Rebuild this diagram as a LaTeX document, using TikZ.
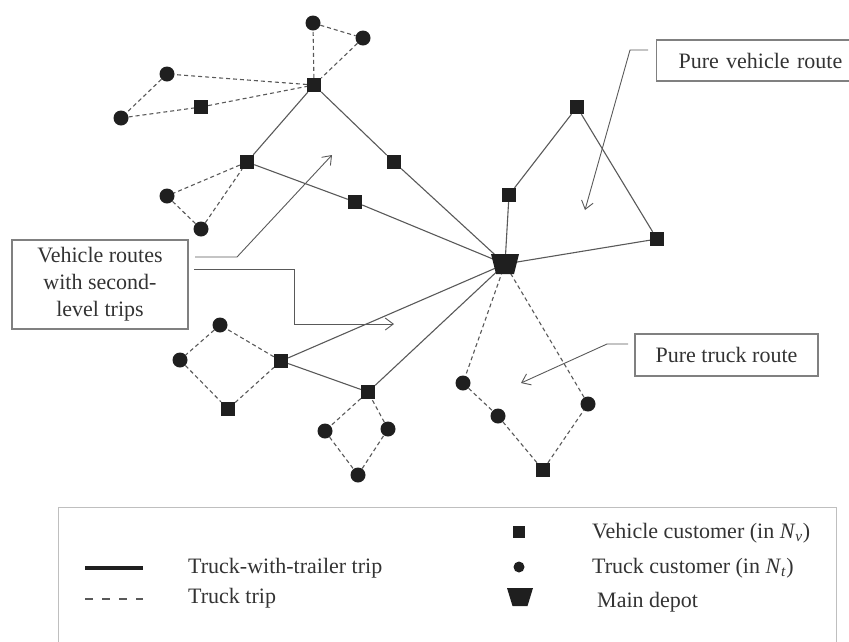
\documentclass[tikz,border=0pt]{standalone}
\usepackage{fontspec}
\setmainfont{Liberation Serif}
\usetikzlibrary{arrows.meta,calc}
\definecolor{linegray}{gray}{0.35}
\definecolor{textgray}{gray}{0.2}
\definecolor{markfill}{gray}{0.12}
\definecolor{boxgray}{gray}{0.5}
\tikzset{
  vcust/.style={rectangle, fill=markfill, minimum size=14pt, inner sep=0pt},
  tcust/.style={circle, fill=markfill, minimum size=15pt, inner sep=0pt},
  solidtrip/.style={draw=linegray, line width=1.1pt},
  trucktrip/.style={draw=linegray, line width=1.1pt, dash pattern=on 4pt off 3pt},
  callout/.style={draw=boxgray, line width=1.1pt, text=textgray, inner sep=0pt, align=center},
  calloutarrow/.style={draw=linegray, line width=0.9pt, -{Straight Barb[length=8pt,width=12pt]}},
  lbl/.style={text=textgray, inner sep=0pt, anchor=west},
  every node/.append style={font=\fontsize{22}{27}\selectfont}
}
\begin{document}
\begin{tikzpicture}[x=1pt,y=-1pt]
\useasboundingbox (0,0) rectangle (849,641);
% depot position
\coordinate (dep) at (505,264);
% vehicle customers
\node[vcust] (s1) at (314,85) {};
\node[vcust] (s2) at (201,107) {};
\node[vcust] (s3) at (247,162) {};
\node[vcust] (s4) at (394,162) {};
\node[vcust] (s5) at (355,202) {};
\node[vcust] (s6) at (577,107) {};
\node[vcust] (s7) at (509,195) {};
\node[vcust] (s8) at (657,239) {};
\node[vcust] (s9) at (281,361) {};
\node[vcust] (s10) at (228,409) {};
\node[vcust] (s11) at (368,392) {};
\node[vcust] (s12) at (543,470) {};
% truck customers
\node[tcust] (c1) at (313,23) {};
\node[tcust] (c2) at (363,38) {};
\node[tcust] (c3) at (167,74) {};
\node[tcust] (c4) at (121,118) {};
\node[tcust] (c5) at (167,196) {};
\node[tcust] (c6) at (201,229) {};
\node[tcust] (c7) at (220,325) {};
\node[tcust] (c8) at (180,360) {};
\node[tcust] (c9) at (325,431) {};
\node[tcust] (c10) at (388,429) {};
\node[tcust] (c11) at (358,475) {};
\node[tcust] (c12) at (463,383) {};
\node[tcust] (c13) at (498,416) {};
\node[tcust] (c14) at (588,404) {};
% truck-with-trailer trips
\draw[solidtrip] (s1) -- (s3) -- (s5) -- (dep);
\draw[solidtrip] (s1) -- (s4) -- (dep);
\draw[solidtrip] (dep) -- (s7) -- (s6) -- (s8) -- (dep);
\draw[solidtrip] (dep) -- (s9) -- (s11) -- (dep);
% truck trips
\draw[trucktrip] (s1) -- (c1) -- (c2) -- (s1);
\draw[trucktrip] (s1) -- (c3) -- (c4) -- (s2) -- (s1);
\draw[trucktrip] (s3) -- (c5) -- (c6) -- (s3);
\draw[trucktrip] (s9) -- (c7) -- (c8) -- (s10) -- (s9);
\draw[trucktrip] (s11) -- (c9) -- (c11) -- (c10) -- (s11);
\draw[trucktrip] (dep) -- (c12) -- (c13) -- (s12) -- (c14) -- (dep);
% depot shape
\fill[markfill] ($(dep)+(-14,-10)$) -- ($(dep)+(14,-10)$) -- ($(dep)+(9,10)$) -- ($(dep)+(-9,10)$) -- cycle;
% callout boxes
\node[callout, anchor=west, minimum height=41pt, inner xsep=22pt, text width=190pt, align=left] (pvr) at (656,60.5) {Pure vehicle route};
\node[callout, minimum width=183pt, minimum height=42pt] (ptr) at (726.5,355) {Pure truck route};
\node[callout, minimum width=176pt, minimum height=89pt] (vrs) at (100,284.5) {Vehicle routes\\with second-\\level trips};
% callout arrows
\coordinate (pvrA) at (648,50);
\coordinate (pvrB) at (630,50);
\coordinate (pvrT) at (585,210);
\draw[calloutarrow] (pvrA) -- (pvrB) -- (pvrT);
\coordinate (ptrA) at (628,344);
\coordinate (ptrB) at (607,344);
\coordinate (ptrT) at (521,383);
\draw[calloutarrow] (ptrA) -- (ptrB) -- (ptrT);
\coordinate (vrsA) at (195,257);
\coordinate (vrsB) at (237,257);
\coordinate (vrsT) at (332,155);
\draw[calloutarrow] (vrsA) -- (vrsB) -- (vrsT);
\coordinate (vrsC) at (194,269);
\coordinate (vrsD) at (294,269);
\coordinate (vrsE) at (294,324);
\coordinate (vrsU) at (394,324);
\draw[calloutarrow] (vrsC) -- (vrsD) -- (vrsE) -- (vrsU);
% legend
\draw[draw=black!25, line width=0.8pt] (58,660) -- (58,507) -- (836,507) -- (836,660);
\coordinate (lsA) at (85,568);
\coordinate (lsB) at (143,568);
\draw[draw=markfill, line width=3.2pt] (lsA) -- (lsB);
\coordinate (ldA) at (85,599);
\coordinate (ldB) at (143,599);
\draw[draw=linegray, line width=2pt, dash pattern=on 8pt off 9pt] (ldA) -- (ldB);
\node[lbl] (lt1) at (188,568) {Truck-with-trailer trip};
\node[lbl] (lt2) at (188,598) {Truck trip};
\node[rectangle, fill=markfill, minimum width=12pt, minimum height=12pt, inner sep=0pt] (lsq) at (519,532) {};
\node[circle, fill=markfill, minimum size=11pt, inner sep=0pt] (lci) at (519,567) {};
\coordinate (ldep) at (520,597);
\fill[markfill] ($(ldep)+(-13,-9)$) -- ($(ldep)+(13,-9)$) -- ($(ldep)+(7.5,9)$) -- ($(ldep)+(-7.5,9)$) -- cycle;
\node[lbl] (lt3) at (592,533) {Vehicle customer (in \textit{N}\textsubscript{\textit{v}})};
\node[lbl] (lt4) at (592,568) {Truck customer (in \textit{N}\textsubscript{\textit{t}})};
\node[lbl] (lt5) at (597,602) {Main depot};
\end{tikzpicture}
\end{document}
